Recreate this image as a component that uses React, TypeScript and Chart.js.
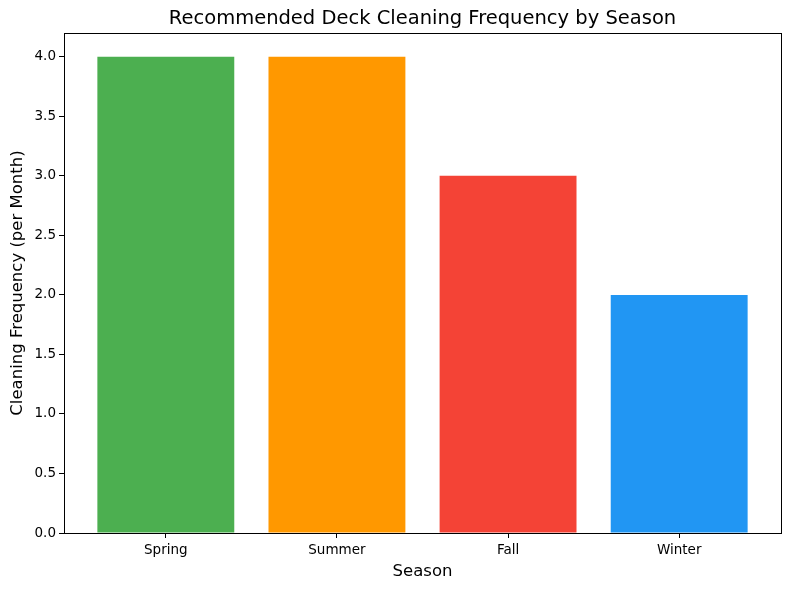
import React, { useEffect, useRef } from 'react';
import { Chart, registerables } from 'chart.js';

Chart.register(...registerables);

const seasons = ['Spring', 'Summer', 'Fall', 'Winter'];
const frequency = [4, 4, 3, 2];
const barColors = ['#4CAF50', '#FF9800', '#F44336', '#2196F3'];
const chartTitle = 'Recommended Deck Cleaning Frequency by Season';

const FONT = "'DejaVu Sans', sans-serif";

// draws the full axes box and the title centred over the axes, like matplotlib
const framePlugin = {
  id: 'frame',
  afterDraw(chart: any) {
    const { ctx, chartArea } = chart;
    ctx.save();
    ctx.strokeStyle = '#000';
    ctx.lineWidth = 1;
    ctx.strokeRect(
      Math.round(chartArea.left) + 0.5,
      Math.round(chartArea.top) + 0.5,
      Math.round(chartArea.right - chartArea.left),
      Math.round(chartArea.bottom - chartArea.top)
    );
    ctx.fillStyle = '#000';
    ctx.font = `19.5px ${FONT}`;
    ctx.textAlign = 'center';
    ctx.textBaseline = 'middle';
    ctx.fillText(chartTitle, (chartArea.left + chartArea.right) / 2, 19);
    ctx.restore();
  },
};

const App: React.FC = () => {
  const chartRef = useRef<HTMLCanvasElement>(null);

  useEffect(() => {
    document.body.style.margin = '0';
    if (!chartRef.current) return;
    const chart = new Chart(chartRef.current, {
      type: 'bar',
      data: {
        datasets: [
          {
            data: frequency.map((v, i) => ({ x: i, y: v })),
            backgroundColor: barColors,
            borderWidth: 0,
            barPercentage: 0.8,
            categoryPercentage: 1,
          },
        ],
      },
      options: {
        animation: false,
        responsive: false,
        devicePixelRatio: 1,
        layout: { padding: { left: 0, right: 9, top: 33, bottom: 0 } },
        plugins: {
          legend: { display: false },
          tooltip: { enabled: false },
          title: { display: false },
        },
        scales: {
          x: {
            type: 'linear',
            min: -0.595,
            max: 3.595,
            offset: false,
            afterBuildTicks: (scale: any) => {
              scale.ticks = seasons.map((_, i) => ({ value: i }));
            },
            afterFit: (scale: any) => {
              scale.height = 57;
            },
            ticks: {
              stepSize: 1,
              color: '#000',
              font: { family: FONT, size: 13.5 },
              padding: 4,
              maxRotation: 0,
              callback: (v: any) => seasons[v] ?? '',
            },
            grid: { offset: false, drawOnChartArea: false, tickLength: 5, tickColor: '#000' },
            border: { display: false },
            title: {
              display: true,
              text: 'Season',
              color: '#000',
              font: { family: FONT, size: 16.5 },
              padding: { top: 0, bottom: 8 },
            },
          },
          y: {
            min: 0,
            max: 4.2,
            afterBuildTicks: (scale: any) => {
              const t = [];
              for (let v = 0; v <= 4; v += 0.5) t.push({ value: v });
              scale.ticks = t;
            },
            afterFit: (scale: any) => {
              scale.width = 64;
            },
            ticks: {
              stepSize: 0.5,
              color: '#000',
              font: { family: FONT, size: 13.5 },
              padding: 3,
              callback: (v: any) => Number(v).toFixed(1),
            },
            grid: { drawOnChartArea: false, tickLength: 5, tickColor: '#000' },
            border: { display: false },
            title: {
              display: true,
              text: 'Cleaning Frequency (per Month)',
              color: '#000',
              font: { family: FONT, size: 16.5 },
              padding: { top: 8, bottom: 0 },
            },
          },
        },
      },
      plugins: [framePlugin],
    });
    return () => chart.destroy();
  }, []);

  return (
    <div style={{ width: 790, height: 590, background: '#fff' }}>
      <canvas ref={chartRef} width={790} height={590} />
    </div>
  );
};

export default App;
